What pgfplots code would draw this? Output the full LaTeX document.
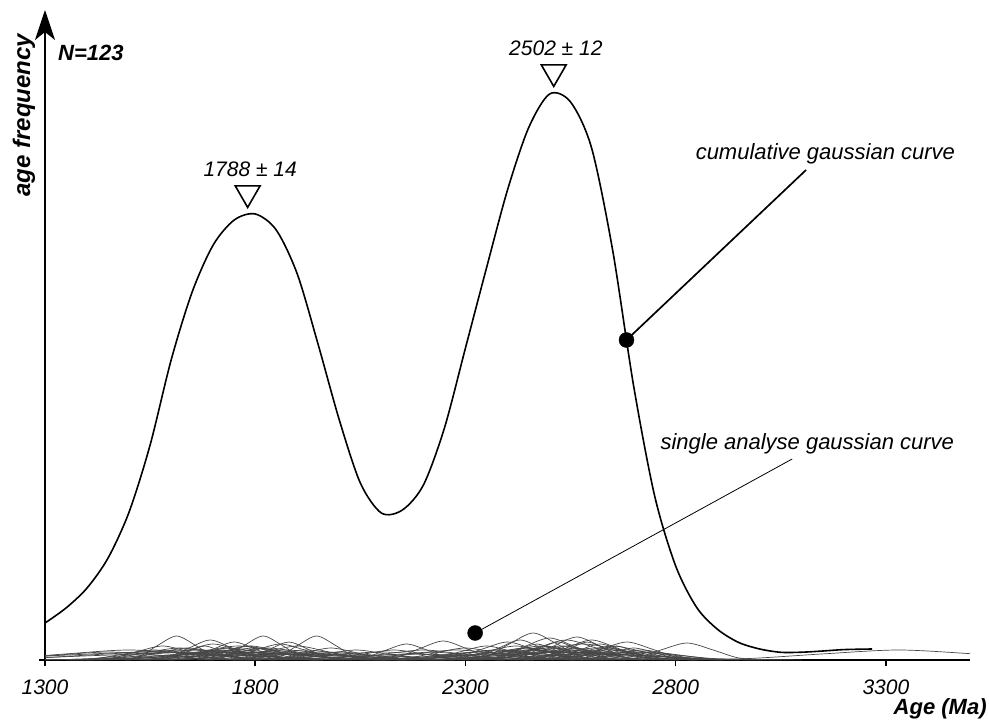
\documentclass[border=0pt]{standalone}
\usepackage{pgfplots}
\pgfplotsset{compat=1.18}
\usetikzlibrary{arrows.meta}
\usepackage{fontspec}
\setmainfont{Liberation Sans}
\tikzset{single/.style={black!72, line width=0.7bp, smooth}}
\begin{document}
\begin{tikzpicture}
\path[use as bounding box] (-45bp,-62bp) rectangle (944bp,660bp);
\begin{axis}[
  scale only axis, width=925bp, height=650bp,
  xmin=1300, xmax=3500, ymin=0, ymax=650,
  axis lines=left,
  x axis line style={-},
  y axis line style={-{Stealth[length=30bp,width=20bp,inset=8bp]}},
  axis line style={line width=1.8bp},
  xtick={1300,1800,2300,2800,3300},
  ytick={0}, yticklabels={},
  tick align=outside,
  major tick length=6bp,
  every tick/.style={black, line width=1.6bp},
  /pgf/number format/assume math mode=true,
  /pgf/number format/1000 sep={},
  xticklabel style={font=\itshape\fontsize{21bp}{25bp}\selectfont, anchor=north, inner sep=0pt, yshift=-14bp},
  clip mode=individual,
]
% single analyse gaussian curves
\addplot[single] coordinates {(1478,0.3)(1523,3.2)(1568,14.6)(1613,24)(1658,14.6)(1703,3.2)(1748,0.3)};
\addplot[single] coordinates {(1543,0.2)(1593,2.7)(1643,12.1)(1693,20)(1743,12.1)(1793,2.7)(1843,0.2)};
\addplot[single] coordinates {(1684,0.3)(1729,3.2)(1774,14.6)(1819,24)(1864,14.6)(1909,3.2)(1954,0.3)};
\addplot[single] coordinates {(1811,0.3)(1856,3.2)(1901,14.6)(1946,24)(1991,14.6)(2036,3.2)(2081,0.3)};
\addplot[single] coordinates {(1520,0.2)(1580,2.2)(1640,9.7)(1700,16)(1760,9.7)(1820,2.2)(1880,0.2)};
\addplot[single] coordinates {(1600,0.2)(1650,2.4)(1700,10.9)(1750,18)(1800,10.9)(1850,2.4)(1900,0.2)};
\addplot[single] coordinates {(1615,0.2)(1670,1.9)(1725,8.5)(1780,14)(1835,8.5)(1890,1.9)(1945,0.2)};
\addplot[single] coordinates {(1430,0.1)(1500,1.6)(1570,7.3)(1640,12)(1710,7.3)(1780,1.6)(1850,0.1)};
\addplot[single] coordinates {(1680,0.2)(1740,2.2)(1800,9.7)(1860,16)(1920,9.7)(1980,2.2)(2040,0.2)};
\addplot[single] coordinates {(1480,0.1)(1560,1.4)(1640,6.1)(1720,10)(1800,6.1)(1880,1.4)(1960,0.1)};
\addplot[single] coordinates {(1530,0.1)(1620,1.6)(1710,7.3)(1800,12)(1890,7.3)(1980,1.6)(2070,0.1)};
\addplot[single] coordinates {(1690,0.2)(1760,1.9)(1830,8.5)(1900,14)(1970,8.5)(2040,1.9)(2110,0.2)};
\addplot[single] coordinates {(1800,0.1)(1860,1.6)(1920,7.3)(1980,12)(2040,7.3)(2100,1.6)(2160,0.1)};
\addplot[single] coordinates {(1830,0.1)(1900,1.4)(1970,6.1)(2040,10)(2110,6.1)(2180,1.4)(2250,0.1)};
\addplot[single] coordinates {(1400,0.1)(1520,1.4)(1640,6.1)(1760,10)(1880,6.1)(2000,1.4)(2120,0.1)};
\addplot[single] coordinates {(1400,0.1)(1550,1.1)(1700,4.9)(1850,8)(2000,4.9)(2150,1.1)(2300,0.1)};
\addplot[single] coordinates {(1050,0.1)(1250,1.4)(1450,6.1)(1650,10)(1850,6.1)(2050,1.4)(2250,0.1)};
\addplot[single] coordinates {(950,0.1)(1200,1.1)(1450,4.9)(1700,8)(1950,4.9)(2200,1.1)(2450,0.1)};
\addplot[single] coordinates {(1150,0.1)(1400,0.8)(1650,3.6)(1900,6)(2150,3.6)(2400,0.8)(2650,0.1)};
\addplot[single] coordinates {(1400,0.2)(1460,1.9)(1520,8.5)(1580,14)(1640,8.5)(1700,1.9)(1760,0.2)};
\addplot[single] coordinates {(1745,0.2)(1790,2.4)(1835,10.9)(1880,18)(1925,10.9)(1970,2.4)(2015,0.2)};
\addplot[single] coordinates {(1560,0.2)(1600,1.9)(1640,8.5)(1680,14)(1720,8.5)(1760,1.9)(1800,0.2)};
\addplot[single] coordinates {(2010,0.2)(2060,2.2)(2110,9.7)(2160,16)(2210,9.7)(2260,2.2)(2310,0.2)};
\addplot[single] coordinates {(2082,0.2)(2137,2.6)(2192,11.5)(2247,19)(2302,11.5)(2357,2.6)(2412,0.2)};
\addplot[single] coordinates {(1930,0.1)(2020,1.4)(2110,6.1)(2200,10)(2290,6.1)(2380,1.4)(2470,0.1)};
\addplot[single] coordinates {(1740,0.1)(1860,1.1)(1980,4.9)(2100,8)(2220,4.9)(2340,1.1)(2460,0.1)};
\addplot[single] coordinates {(2090,0.1)(2160,1.6)(2230,7.3)(2300,12)(2370,7.3)(2440,1.6)(2510,0.1)};
\addplot[single] coordinates {(2296,0.3)(2351,3.6)(2406,16.4)(2461,27)(2516,16.4)(2571,3.6)(2626,0.3)};
\addplot[single] coordinates {(2400,0.3)(2455,3.1)(2510,14)(2565,23)(2620,14)(2675,3.1)(2730,0.3)};
\addplot[single] coordinates {(2504,0.2)(2564,2.4)(2624,10.9)(2684,18)(2744,10.9)(2804,2.4)(2864,0.2)};
\addplot[single] coordinates {(2220,0.2)(2280,2.4)(2340,10.9)(2400,18)(2460,10.9)(2520,2.4)(2580,0.2)};
\addplot[single] coordinates {(2280,0.2)(2330,2.7)(2380,12.1)(2430,20)(2480,12.1)(2530,2.7)(2580,0.2)};
\addplot[single] coordinates {(2320,0.2)(2380,3)(2440,13.4)(2500,22)(2560,13.4)(2620,3)(2680,0.2)};
\addplot[single] coordinates {(2385,0.2)(2430,2.4)(2475,10.9)(2520,18)(2565,10.9)(2610,2.4)(2655,0.2)};
\addplot[single] coordinates {(2330,0.2)(2400,2.7)(2470,12.1)(2540,20)(2610,12.1)(2680,2.7)(2750,0.2)};
\addplot[single] coordinates {(2420,0.2)(2480,2.7)(2540,12.1)(2600,20)(2660,12.1)(2720,2.7)(2780,0.2)};
\addplot[single] coordinates {(2470,0.2)(2520,2.2)(2570,9.7)(2620,16)(2670,9.7)(2720,2.2)(2770,0.2)};
\addplot[single] coordinates {(2440,0.2)(2510,1.9)(2580,8.5)(2650,14)(2720,8.5)(2790,1.9)(2860,0.2)};
\addplot[single] coordinates {(2240,0.2)(2320,1.9)(2400,8.5)(2480,14)(2560,8.5)(2640,1.9)(2720,0.2)};
\addplot[single] coordinates {(2170,0.2)(2230,1.9)(2290,8.5)(2350,14)(2410,8.5)(2470,1.9)(2530,0.2)};
\addplot[single] coordinates {(2550,0.1)(2600,1.6)(2650,7.3)(2700,12)(2750,7.3)(2800,1.6)(2850,0.1)};
\addplot[single] coordinates {(2090,0.1)(2210,1.4)(2330,6.1)(2450,10)(2570,6.1)(2690,1.4)(2810,0.1)};
\addplot[single] coordinates {(2100,0.1)(2250,1.1)(2400,4.9)(2550,8)(2700,4.9)(2850,1.1)(3000,0.1)};
\addplot[single] coordinates {(2310,0.2)(2400,2.2)(2490,9.7)(2580,16)(2670,9.7)(2760,2.2)(2850,0.2)};
\addplot[single] coordinates {(2080,0.1)(2180,1.4)(2280,6.1)(2380,10)(2480,6.1)(2580,1.4)(2680,0.1)};
\addplot[single] coordinates {(1900,0.1)(2100,1.1)(2300,4.9)(2500,8)(2700,4.9)(2900,1.1)(3100,0.1)};
\addplot[single] coordinates {(2540,0.2)(2580,1.9)(2620,8.5)(2660,14)(2700,8.5)(2740,1.9)(2780,0.2)};
\addplot[single] coordinates {(2540,0.1)(2600,1.4)(2660,6.1)(2720,10)(2780,6.1)(2840,1.4)(2900,0.1)};
\addplot[single] coordinates {(2335,0.2)(2380,2.2)(2425,9.7)(2470,16)(2515,9.7)(2560,2.2)(2605,0.2)};
\addplot[single] coordinates {(2455,0.2)(2500,2.4)(2545,10.9)(2590,18)(2635,10.9)(2680,2.4)(2725,0.2)};
\addplot[single] coordinates {(2647,0.2)(2707,2.3)(2767,10.3)(2827,17)(2887,10.3)(2947,2.3)(3007,0.2)};
\addplot[single] coordinates {(2790,0.1)(2970,1.4)(3150,6.1)(3330,10)(3510,6.1)(3690,1.4)};
\addplot[single] coordinates {(1050,0.1)(1200,1.4)(1350,6.1)(1500,10)(1650,6.1)(1800,1.4)(1950,0.1)};
\addplot[single] coordinates {(950,0.1)(1150,1.1)(1350,4.9)(1550,8)(1750,4.9)(1950,1.1)(2150,0.1)};
\addplot[single] coordinates {(1090,0.1)(1210,1.1)(1330,4.9)(1450,8)(1570,4.9)(1690,1.1)(1810,0.1)};
\addplot[single] coordinates {(1380,0.1)(1460,1.6)(1540,7.3)(1620,12)(1700,7.3)(1780,1.6)(1860,0.1)};
\addplot[single] coordinates {(1360,0.1)(1460,1.4)(1560,6.1)(1660,10)(1760,6.1)(1860,1.4)(1960,0.1)};
\addplot[single] coordinates {(1530,0.1)(1600,1.6)(1670,7.3)(1740,12)(1810,7.3)(1880,1.6)(1950,0.1)};
\addplot[single] coordinates {(1595,0.2)(1660,1.9)(1725,8.5)(1790,14)(1855,8.5)(1920,1.9)(1985,0.2)};
\addplot[single] coordinates {(1590,0.1)(1670,1.6)(1750,7.3)(1830,12)(1910,7.3)(1990,1.6)(2070,0.1)};
\addplot[single] coordinates {(1570,0.1)(1670,1.4)(1770,6.1)(1870,10)(1970,6.1)(2070,1.4)(2170,0.1)};
\addplot[single] coordinates {(1680,0.1)(1760,1.4)(1840,6.1)(1920,10)(2000,6.1)(2080,1.4)(2160,0.1)};
\addplot[single] coordinates {(1370,0.1)(1480,1.1)(1590,4.9)(1700,8)(1810,4.9)(1920,1.1)(2030,0.1)};
\addplot[single] coordinates {(1350,0.1)(1490,1.1)(1630,4.9)(1770,8)(1910,4.9)(2050,1.1)(2190,0.1)};
\addplot[single] coordinates {(1660,0.1)(1760,1.1)(1860,4.9)(1960,8)(2060,4.9)(2160,1.1)(2260,0.1)};
\addplot[single] coordinates {(1300,0.1)(1400,1.1)(1500,4.9)(1600,8)(1700,4.9)(1800,1.1)(1900,0.1)};
\addplot[single] coordinates {(1660,0.1)(1710,1.6)(1760,7.3)(1810,12)(1860,7.3)(1910,1.6)(1960,0.1)};
\addplot[single] coordinates {(1595,0.1)(1640,1.6)(1685,7.3)(1730,12)(1775,7.3)(1820,1.6)(1865,0.1)};
\addplot[single] coordinates {(1350,0.1)(1420,1.4)(1490,6.1)(1560,10)(1630,6.1)(1700,1.4)(1770,0.1)};
\addplot[single] coordinates {(1760,0.1)(1840,1.1)(1920,4.9)(2000,8)(2080,4.9)(2160,1.1)(2240,0.1)};
\addplot[single] coordinates {(1230,0.1)(1380,0.8)(1530,3.6)(1680,6)(1830,3.6)(1980,0.8)(2130,0.1)};
\addplot[single] coordinates {(1490,0.1)(1620,0.8)(1750,3.6)(1880,6)(2010,3.6)(2140,0.8)(2270,0.1)};
\addplot[single] coordinates {(1490,0.2)(1580,1.9)(1670,8.5)(1760,14)(1850,8.5)(1940,1.9)(2030,0.2)};
\addplot[single] coordinates {(1920,0.1)(1990,1.4)(2060,6.1)(2130,10)(2200,6.1)(2270,1.4)(2340,0.1)};
\addplot[single] coordinates {(1980,0.1)(2060,1.1)(2140,4.9)(2220,8)(2300,4.9)(2380,1.1)(2460,0.1)};
\addplot[single] coordinates {(1980,0.1)(2080,1.4)(2180,6.1)(2280,10)(2380,6.1)(2480,1.4)(2580,0.1)};
\addplot[single] coordinates {(1730,0.1)(1880,0.8)(2030,3.6)(2180,6)(2330,3.6)(2480,0.8)(2630,0.1)};
\addplot[single] coordinates {(2210,0.2)(2280,1.9)(2350,8.5)(2420,14)(2490,8.5)(2560,1.9)(2630,0.2)};
\addplot[single] coordinates {(2180,0.1)(2270,1.6)(2360,7.3)(2450,12)(2540,7.3)(2630,1.6)(2720,0.1)};
\addplot[single] coordinates {(2200,0.1)(2300,1.6)(2400,7.3)(2500,12)(2600,7.3)(2700,1.6)(2800,0.1)};
\addplot[single] coordinates {(2290,0.2)(2370,1.9)(2450,8.5)(2530,14)(2610,8.5)(2690,1.9)(2770,0.2)};
\addplot[single] coordinates {(2260,0.1)(2360,1.4)(2460,6.1)(2560,10)(2660,6.1)(2760,1.4)(2860,0.1)};
\addplot[single] coordinates {(2370,0.1)(2450,1.6)(2530,7.3)(2610,12)(2690,7.3)(2770,1.6)(2850,0.1)};
\addplot[single] coordinates {(2370,0.1)(2460,1.4)(2550,6.1)(2640,10)(2730,6.1)(2820,1.4)(2910,0.1)};
\addplot[single] coordinates {(2440,0.1)(2520,1.4)(2600,6.1)(2680,10)(2760,6.1)(2840,1.4)(2920,0.1)};
\addplot[single] coordinates {(2130,0.1)(2210,1.4)(2290,6.1)(2370,10)(2450,6.1)(2530,1.4)(2610,0.1)};
\addplot[single] coordinates {(2260,0.1)(2320,1.6)(2380,7.3)(2440,12)(2500,7.3)(2560,1.6)(2620,0.1)};
\addplot[single] coordinates {(2340,0.2)(2390,1.9)(2440,8.5)(2490,14)(2540,8.5)(2590,1.9)(2640,0.2)};
\addplot[single] coordinates {(2440,0.1)(2480,1.6)(2520,7.3)(2560,12)(2600,7.3)(2640,1.6)(2680,0.1)};
\addplot[single] coordinates {(2290,0.1)(2400,1.1)(2510,4.9)(2620,8)(2730,4.9)(2840,1.1)(2950,0.1)};
\addplot[single] coordinates {(2150,0.1)(2300,0.8)(2450,3.6)(2600,6)(2750,3.6)(2900,0.8)(3050,0.1)};
\addplot[single] coordinates {(2400,0.1)(2500,1.1)(2600,4.9)(2700,8)(2800,4.9)(2900,1.1)(3000,0.1)};
\addplot[single] coordinates {(2530,0.1)(2600,1.1)(2670,4.9)(2740,8)(2810,4.9)(2880,1.1)(2950,0.1)};
\addplot[single] coordinates {(2130,0.1)(2260,1.1)(2390,4.9)(2520,8)(2650,4.9)(2780,1.1)(2910,0.1)};
\addplot[single] coordinates {(2020,0.1)(2150,0.8)(2280,3.6)(2410,6)(2540,3.6)(2670,0.8)(2800,0.1)};
\addplot[single] coordinates {(2060,0.1)(2150,1.1)(2240,4.9)(2330,8)(2420,4.9)(2510,1.1)(2600,0.1)};
\addplot[single] coordinates {(2290,0.1)(2350,1.4)(2410,6.1)(2470,10)(2530,6.1)(2590,1.4)(2650,0.1)};
\addplot[single] coordinates {(2370,0.1)(2430,1.6)(2490,7.3)(2550,12)(2610,7.3)(2670,1.6)(2730,0.1)};
\addplot[single] coordinates {(2475,0.1)(2530,1.6)(2585,7.3)(2640,12)(2695,7.3)(2750,1.6)(2805,0.1)};
% cumulative gaussian curve
\addplot[black, line width=1.6bp, smooth] coordinates {
(1300,37)(1350,52)(1400,72)(1450,102)(1500,148)(1550,215)(1600,300)(1650,368)
(1700,415)(1750,440)(1800,446)(1850,430)(1900,386)(1950,315)(2000,240)
(2050,177)(2100,147)(2150,150)(2200,175)(2250,232)(2300,312)(2350,392)
(2400,470)(2450,532)(2500,566)(2550,558)(2600,512)(2650,410)(2700,274)
(2750,164)(2800,94)(2850,52.5)(2900,30.5)(2950,17.5)(3000,11)(3050,7.7)
(3100,7.8)(3150,9)(3200,10.4)(3267,11)};
% callouts
\addplot[black, line width=1.7bp] coordinates {(2683,320)(3110,490)};
\addplot[black, line width=0.8bp] coordinates {(2323,27)(3077,201)};
\addplot[only marks, mark=*, mark size=7.5bp, mark options={fill=black, draw=black}] coordinates {(2683,320)(2323,27)};
\addplot[only marks, mark=triangle, mark size=14.4bp, mark options={rotate=180, line width=1.6bp, fill=white, draw=black}] coordinates {(1782,467)(2510,588)};
% texts
\node[font=\bfseries\itshape\fontsize{24bp}{28bp}\selectfont, rotate=90, inner sep=0pt] at (axis cs:1250,545) {age frequency};
\node[font=\bfseries\itshape\fontsize{22bp}{26bp}\selectfont, anchor=west, inner sep=0pt] at (axis cs:1331,607) {N=123};
\node[font=\bfseries\itshape\fontsize{22bp}{26bp}\selectfont, anchor=east, inner sep=0pt] at (axis cs:3540,-49) {Age (Ma)};
\node[font=\itshape\fontsize{21bp}{25bp}\selectfont, inner sep=0pt] at (axis cs:1788,491) {1788 ± 14};
\node[font=\itshape\fontsize{21bp}{25bp}\selectfont, inner sep=0pt] at (axis cs:2515,612) {2502 ± 12};
\node[font=\itshape\fontsize{22bp}{26bp}\selectfont, inner sep=0pt] at (axis cs:3156,506) {cumulative gaussian curve};
\node[font=\itshape\fontsize{22bp}{26bp}\selectfont, inner sep=0pt] at (axis cs:3113,216) {single analyse gaussian curve};
\end{axis}
\end{tikzpicture}
\end{document}
